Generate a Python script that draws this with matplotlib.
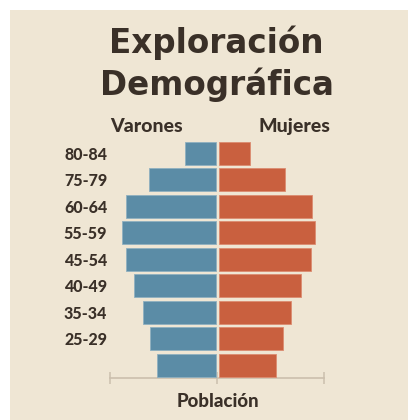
import numpy as np
import matplotlib
matplotlib.use("Agg")
import matplotlib.pyplot as plt
from matplotlib.patches import Rectangle

# age groups, top to bottom (the lowest bar has no label in the original)
AGE_LABELS = ["80-84", "75-79", "60-64", "55-59", "45-54", "40-49", "35-34", "25-29", ""]
VARONES = [29, 62, 84, 88, 84, 76, 68, 61, 55]
MUJERES = [29, 62, 87, 90, 86, 77, 68, 60, 54]

BG = "#efe6d4"
TXT = "#3a3028"
BLUE = "#5b8ca6"
ORANGE = "#c9603f"
AXIS = "#cbbfad"
GAP = 2

plt.rcParams["font.family"] = ["Lato", "DejaVu Sans"]

fig = plt.figure(figsize=(4.12, 4.20), dpi=100)
fig.patch.set_facecolor("white")
# beige paper with a thin white border
fig.patches.append(Rectangle((10 / 412, 0), 398 / 412, 410 / 420,
                             transform=fig.transFigure, facecolor=BG,
                             edgecolor="none", zorder=-10))

ax = fig.add_axes([110 / 412, 41.7 / 420, 214 / 412, 238.3 / 420])
ax.set_facecolor("none")
ax.set_zorder(2)

n = len(AGE_LABELS)
y = np.arange(n)[::-1]
ax.barh(y, -np.array(VARONES), left=-GAP / 2 - 0.2, height=0.87,
        color=BLUE, edgecolor="#8fb0c0", linewidth=0.6, zorder=3)
ax.barh(y, MUJERES, left=GAP / 2 + 0.6, height=0.87,
        color=ORANGE, edgecolor="#dc8c70", linewidth=0.6, zorder=3)

ax.set_xlim(-100, 100)
ax.set_ylim(-0.5, n - 0.5)

for side in ["top", "right", "left"]:
    ax.spines[side].set_visible(False)
ax.spines["bottom"].set_color(AXIS)
ax.spines["bottom"].set_linewidth(1.2)
ax.set_xticks([-100, 0, 100])
ax.set_xticklabels([])
ax.tick_params(axis="x", direction="inout", length=8.5, width=1.1, color=AXIS)

ax.set_yticks(y)
ax.set_yticklabels(AGE_LABELS, fontsize=11.5, fontweight="black", color=TXT)
ax.tick_params(axis="y", length=0, pad=2)

title_font = dict(ha="center", va="baseline", fontsize=23.5, fontweight="bold",
                  color=TXT, family=["DejaVu Sans"])
fig.text(216.5 / 412, 1 - 53.3 / 420, "Exploración", **title_font)
fig.text(216.5 / 412, 1 - 94.5 / 420, "Demográfica", **title_font)

head_font = dict(ha="center", va="baseline", fontsize=14, fontweight="black", color=TXT)
fig.text(146.3 / 412, 1 - 132.3 / 420, "Varones", **head_font)
fig.text(294.7 / 412, 1 - 132.3 / 420, "Mujeres", **head_font)
fig.text(217.7 / 412, 1 - 406.7 / 420, "Población", ha="center", va="baseline",
         fontsize=13.4, fontweight="black", color=TXT)

fig.savefig("out.png", dpi=100)
